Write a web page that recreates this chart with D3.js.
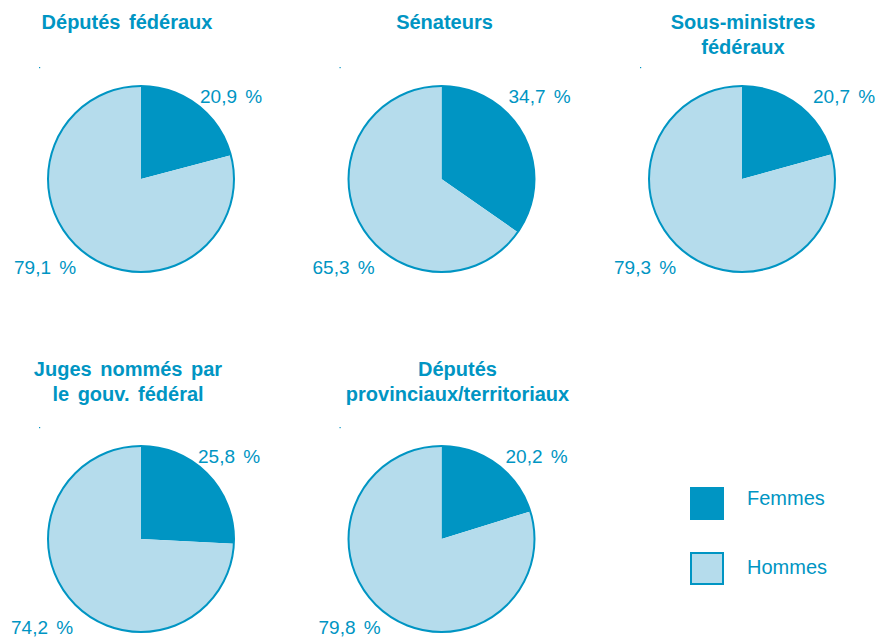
<!DOCTYPE html>
<html>
<head>
<meta charset="utf-8">
<script src="https://cdn.jsdelivr.net/npm/d3@7"></script>
<style>
body { margin: 0; background: #fff; }
text { font-family: "Liberation Sans", Arial, sans-serif; fill: #0095c3; }
</style>
</head>
<body>
<script>
var titles = [["Députés fédéraux"], ["Sénateurs"], ["Sous-ministres", "fédéraux"],
              ["Juges nommés par", "le gouv. fédéral"], ["Députés", "provinciaux/territoriaux"]];
var femmes = [20.9, 34.7, 20.7, 25.8, 20.2];
var hommes = [79.1, 65.3, 79.3, 74.2, 79.8];
var legendLabels = ["Femmes", "Hommes"];

var W = 885, H = 637;
var dark = "#0095c3", light = "#b5dcec";

var svg = d3.select("body").append("svg")
  .attr("width", W).attr("height", H);

// pie centres
var cols = d3.scalePoint().domain([0, 1, 2]).range([141, 742]);
var rows = d3.scalePoint().domain([0, 1]).range([179, 539]);
var r = 93;
var titleX = [-14, 3, 1, -13, 16];   // title shift from pie centre
var titleY = [-150, -163];          // first baseline, per row
var fLabX = [59, 67, 71, 57, 64];
var hLabX = [-127, -129, -128, -130, -123];

var pie = d3.pie().sort(null).value(function(d) { return d; });
var arc = d3.arc().innerRadius(0).outerRadius(r);
var fmt = function(v) { return d3.format(".1f")(v).replace(".", ","); };

femmes.forEach(function(f, i) {
  var row = Math.floor(i / 3);
  var cx = cols(i % 3), cy = rows(row);
  var g = svg.append("g").attr("transform", "translate(" + cx + "," + cy + ")");

  g.selectAll("path")
    .data(pie([f, hommes[i]]))
    .enter().append("path")
    .attr("d", arc)
    .attr("fill", function(d, j) { return j == 0 ? dark : light; });

  g.append("circle").attr("r", r)
    .attr("fill", "none").attr("stroke", dark).attr("stroke-width", 2);

  // small stray tick in the corner
  g.append("rect").attr("x", -102).attr("y", -112).attr("width", 1.2).attr("height", 1.2)
    .attr("fill", dark);

  g.append("text").attr("x", fLabX[i]).attr("y", -76)
    .style("font-size", "19px").style("word-spacing", "3px")
    .text(fmt(f) + " %");
  g.append("text").attr("x", hLabX[i]).attr("y", 95)
    .style("font-size", "19px").style("word-spacing", "3px")
    .text(fmt(hommes[i]) + " %");

  // title
  g.append("text")
    .attr("text-anchor", "middle")
    .attr("y", titleY[row])
    .style("font-size", "20px").style("font-weight", "bold").style("word-spacing", "3px")
    .selectAll("tspan")
    .data(titles[i])
    .enter().append("tspan")
    .attr("x", titleX[i])
    .attr("dy", function(d, j) { return j == 0 ? 0 : 25; })
    .text(function(d) { return d; });
});

// legend
var leg = svg.append("g").attr("transform", "translate(690,487)");
var ly = d3.scalePoint().domain(legendLabels).range([0, 65]);
var lty = d3.scalePoint().domain(legendLabels).range([11, 80]);
leg.selectAll("rect")
  .data(legendLabels)
  .enter().append("rect")
  .attr("x", 1).attr("y", function(d) { return ly(d) + 1; })
  .attr("width", 32).attr("height", 31)
  .attr("fill", function(d, j) { return j == 0 ? dark : light; })
  .attr("stroke", dark).attr("stroke-width", 2);
leg.selectAll("text.lab")
  .data(legendLabels)
  .enter().append("text")
  .attr("x", 57).attr("y", function(d) { return lty(d); })
  .attr("dy", "0.35em")
  .style("font-size", "20px")
  .text(function(d) { return d; });
</script>
</body>
</html>
